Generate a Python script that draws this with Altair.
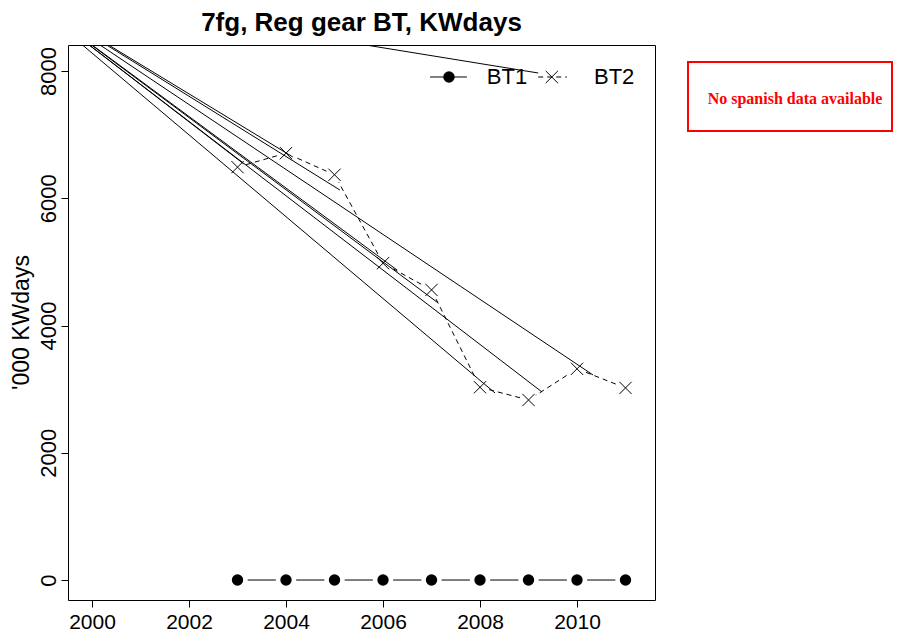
import altair as alt
import pandas as pd

# ---- data ----
years = [2003, 2004, 2005, 2006, 2007, 2008, 2009, 2010, 2011]
bt1 = [0, 0, 0, 0, 0, 0, 0, 0, 0]
bt2 = [6490, 6710, 6370, 4980, 4560, 3030, 2830, 3320, 3020]

# stray straight segments visible in the original (common origin -> start of each dashed piece)
stray_x0 = 1998.41
stray_y0 = 9306
stray_end_x = [2003.13, 2004.14, 2005.11, 2006.29, 2007.13, 2008.31, 2009.28, 2010.33, 2009.20]
stray_end_y = [6540, 6650, 6131, 4873, 4359, 2940, 2955, 3223, 7970]

x_ticks = [2000, 2002, 2004, 2006, 2008, 2010]
y_ticks = [0, 2000, 4000, 6000, 8000]
x_domain = [1999.505, 2011.608]
y_domain = [-314, 8410]

title_text = "7fg, Reg gear BT, KWdays"
y_title = "'000 KWdays"
series_names = ["BT1", "BT2"]
note_text = "No spanish data available"

# legend anchor (data units)
leg_y = 7907
leg1_line = [2006.97, 2007.73]
leg1_pt = 2007.36
leg1_txt = 2008.14
leg2_line = [2009.20, 2009.79]
leg2_pt = 2009.48
leg2_txt = 2010.35

# ---- tables ----
df = pd.DataFrame({"year": years, "bt1": bt1, "bt2": bt2})
stray = pd.DataFrame({
    "x0": [stray_x0] * len(stray_end_x),
    "y0": [stray_y0] * len(stray_end_x),
    "x1": stray_end_x,
    "y1": stray_end_y,
})
leg_lines = pd.DataFrame({
    "x0": [leg1_line[0], leg2_line[0]],
    "x1": [leg1_line[1], leg2_line[1]],
    "y": [leg_y, leg_y],
    "s": series_names,
})
leg_pts = pd.DataFrame({"x": [leg1_pt, leg2_pt], "y": [leg_y, leg_y], "s": series_names})
leg_txt = pd.DataFrame({"x": [leg1_txt, leg2_txt], "y": [leg_y, leg_y], "s": series_names})
one = pd.DataFrame({"t": [note_text]})

FONT = "Liberation Sans"
xs = alt.Scale(domain=x_domain, nice=False, zero=False)
ys = alt.Scale(domain=y_domain, nice=False, zero=False)
xaxis = alt.Axis(values=x_ticks, format="d", title=None, grid=False, domain=False,
                 tickSize=7, labelFontSize=21, labelPadding=4, labelFlush=False)
yaxis = alt.Axis(values=y_ticks, format="d", title=y_title, grid=False, domain=False,
                 tickSize=7, labelFontSize=22, labelPadding=1, labelAngle=270,
                 labelAlign="center", labelBaseline="bottom",
                 titleFontSize=23, titleFontWeight="normal", titleAngle=270,
                 titleX=-47, titleY=277, titleAlign="center", titleBaseline="middle")


def X(f):
    return alt.X(f, type="quantitative", scale=xs, axis=xaxis)


def Y(f):
    return alt.Y(f, type="quantitative", scale=ys, axis=yaxis)


base = alt.Chart(df)

bt2_line = base.mark_line(color="black", strokeWidth=1, strokeDash=[5, 4]).encode(x=X("year"), y=Y("bt2"))
bt1_line = base.mark_line(color="black", strokeWidth=1).encode(x=X("year"), y=Y("bt1"))
gap1 = base.mark_point(filled=True, color="white", opacity=1, size=420, shape="circle").encode(x=X("year"), y=Y("bt1"))
gap2 = base.mark_point(filled=True, color="white", opacity=1, size=300, shape="circle").encode(x=X("year"), y=Y("bt2"))

stray_rules = alt.Chart(stray).mark_rule(color="black", strokeWidth=1, clip=True).encode(
    x=X("x0"), y=Y("y0"), x2="x1", y2="y1")

dots = base.mark_point(filled=True, color="black", opacity=1, size=130, shape="circle").encode(x=X("year"), y=Y("bt1"))
cross_shape = "M-1,-1L1,1M-1,1L1,-1"
crosses = base.mark_point(shape=cross_shape, filled=False, color="black", opacity=1,
                          strokeWidth=1, size=150).encode(x=X("year"), y=Y("bt2"))

leg_l1 = alt.Chart(leg_lines).transform_filter(alt.datum.s == "BT1").mark_rule(color="black", strokeWidth=1).encode(
    x=X("x0"), x2="x1", y=Y("y"))
leg_l2 = alt.Chart(leg_lines).transform_filter(alt.datum.s == "BT2").mark_rule(
    color="black", strokeWidth=1, strokeDash=[5, 4]).encode(x=X("x0"), x2="x1", y=Y("y"))
leg_p1 = alt.Chart(leg_pts).transform_filter(alt.datum.s == "BT1").mark_point(
    filled=True, color="black", opacity=1, size=130, shape="circle").encode(x=X("x"), y=Y("y"))
leg_p2 = alt.Chart(leg_pts).transform_filter(alt.datum.s == "BT2").mark_point(
    shape=cross_shape, filled=False, color="black", opacity=1, strokeWidth=1, size=150).encode(x=X("x"), y=Y("y"))
leg_t = alt.Chart(leg_txt).mark_text(font=FONT, fontSize=22, align="left", baseline="middle", color="black").encode(
    x=X("x"), y=Y("y"), text="s:N")

note_box = alt.Chart(one).mark_rect(fill="white", fillOpacity=0, stroke="red", strokeWidth=2).encode(
    x=alt.value(620), x2=alt.value(824), y=alt.value(17), y2=alt.value(86))
note = alt.Chart(one).mark_text(font="Liberation Serif", fontWeight="bold", fontSize=16, color="red",
                                align="center", baseline="middle").encode(
    x=alt.value(727), y=alt.value(54), text="t:N")

chart = alt.layer(
    bt2_line, bt1_line, gap1, gap2, stray_rules, dots, crosses,
    leg_l1, leg_l2, leg_p1, leg_p2, leg_t, note_box, note
).properties(
    width=587, height=555,
    autosize=alt.AutoSizeParams(type="none"),
    padding={"left": 60, "top": 37, "right": 238, "bottom": 35},
    title=alt.TitleParams(title_text, font=FONT, fontSize=26, fontWeight="bold", anchor="middle",
                          color="black", offset=9),
    background="white",
).configure_view(stroke="black", strokeWidth=1).configure_axis(
    labelFont=FONT, titleFont=FONT, labelColor="black", titleColor="black", tickColor="black", tickWidth=1
)

chart.save("out.html", embed_options={"renderer": "svg", "actions": False})
